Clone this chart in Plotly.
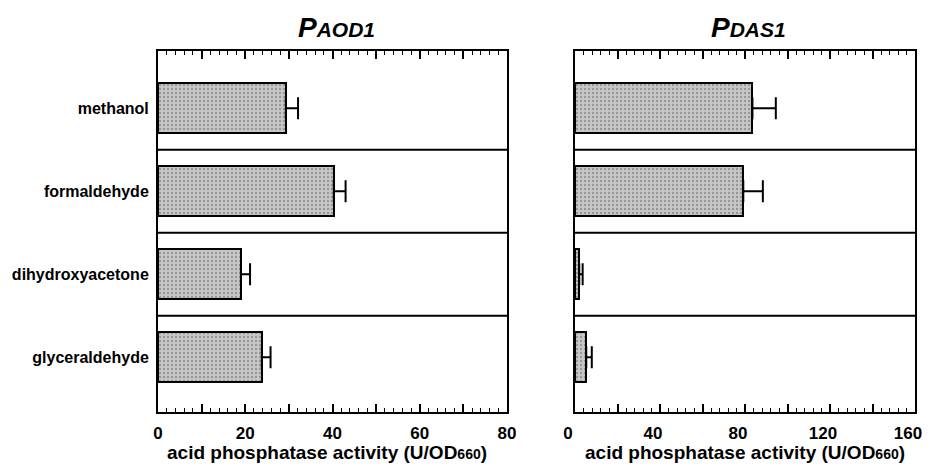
import plotly.graph_objects as go

categories = ["methanol", "formaldehyde", "dihydroxyacetone", "glyceraldehyde"]
aod1_values = [29.3, 40.3, 19.0, 23.8]
aod1_errors = [2.8, 2.7, 2.1, 2.0]
das1_values = [83.5, 79.2, 2.0, 5.3]
das1_errors = [11.0, 9.2, 1.6, 2.6]
aod1_ticks = [0, 20, 40, 60, 80]
das1_ticks = [0, 40, 80, 120, 160]

ypos = [3, 2, 1, 0]
FONT = "Liberation Sans, Arial, sans-serif"
OFF = 8  # page body margin
W, H = 930 - OFF, 465 - OFF

def px(x):
    return (x - OFF) / W

def py(y):
    return 1 - (y - OFF) / H

fig = go.Figure()

def add_panel(vals, errs, xa, ya):
    fig.add_trace(go.Bar(
        x=vals, y=ypos, orientation="h", width=0.6,
        marker=dict(color="#c8c8c8",
                    line=dict(color="black", width=2),
                    pattern=dict(shape=".", fgcolor="#666666", size=4, solidity=0.3)),
        error_x=dict(type="data", array=errs, arrayminus=[0]*len(errs),
                     symmetric=False, color="black", thickness=2, width=11),
        xaxis=xa, yaxis=ya, showlegend=False, hoverinfo="skip"))

add_panel(aod1_values, aod1_errors, "x", "y")
add_panel(das1_values, das1_errors, "x2", "y2")

def xaxis_cfg(domain, maxv, major, minor, labels, anchor, shift):
    vals = list(range(0, maxv + 1, major))
    text = [str(v) if v in labels else "" for v in vals]
    return dict(domain=domain, range=[0, maxv], anchor=anchor, automargin=False,
                tickvals=vals, ticktext=text, ticks="inside", ticklen=8, tickwidth=1.5,
                tickcolor="black", showline=True, linecolor="black", linewidth=2,
                mirror="ticks", showgrid=False, zeroline=False,
                minor=dict(ticks="inside", dtick=minor, ticklen=4, tickwidth=1.2, tickcolor="black", showgrid=False),
                tickfont=dict(family=FONT, size=17, color="black", weight="bold"),
                ticklabelstandoff=5, ticklabeloverflow="allow", ticklabelshift=shift)

yd = [py(412), py(51)]
yrange = [-0.66, 3.69]

fig.update_layout(
    width=W, height=H,
    margin=dict(l=0, r=0, t=0, b=0, autoexpand=False),
    plot_bgcolor="white", paper_bgcolor="white",
    xaxis=xaxis_cfg([px(158), px(507)], 80, 10, 2, aod1_ticks, "y", 0),
    xaxis2=xaxis_cfg([px(575), px(915)], 160, 20, 4, das1_ticks, "y2", -7),
    yaxis=dict(domain=yd, range=yrange, anchor="x", tickvals=ypos, ticktext=categories,
               automargin=False, ticks="", showline=True, linecolor="black", linewidth=2,
               mirror=True, showgrid=False, zeroline=False, ticklabelstandoff=4,
               tickfont=dict(family=FONT, size=16, color="black", weight="bold")),
    yaxis2=dict(domain=yd, range=yrange, anchor="x2", showticklabels=False, automargin=False,
                ticks="", showline=True, linecolor="black", linewidth=2, mirror=True,
                showgrid=False, zeroline=False),
    bargap=0,
)

for xr, yr in (("x domain", "y"), ("x2 domain", "y2")):
    for b in (0.5, 1.5, 2.5):
        fig.add_shape(type="line", xref=xr, yref=yr, x0=0, x1=1, y0=b, y1=b,
                      line=dict(color="black", width=2))

def title(text_main, text_small, cx):
    fig.add_annotation(
        x=px(cx), y=py(27), xref="paper", yref="paper", showarrow=False,
        xanchor="center", yanchor="middle",
        text=f"<b><i>{text_main}<span style='font-size:21px'>{text_small}</span></i></b>",
        font=dict(family=FONT, size=28, color="black"))

title("P", "AOD1", 336)
title("P", "DAS1", 748)

for cx in (327, 745):
    fig.add_annotation(
        x=px(cx), y=py(452), xref="paper", yref="paper", showarrow=False,
        xanchor="center", yanchor="middle",
        text="<b>acid phosphatase activity (U/OD<span style='font-size:14px'>660</span>)</b>",
        font=dict(family=FONT, size=19, color="black"))

fig.write_html("out.html")
